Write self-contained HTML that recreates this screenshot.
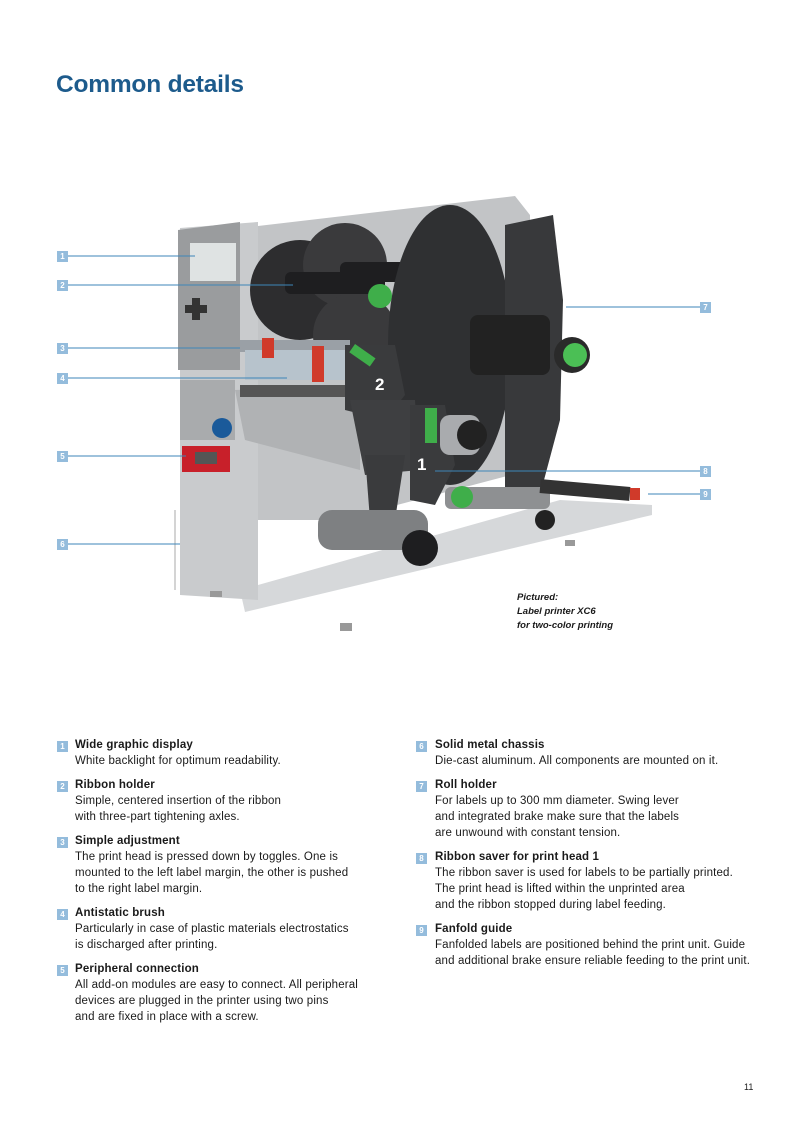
<!DOCTYPE html>
<html><head><meta charset="utf-8"><style>
body{margin:0;background:#fff;}
#p{position:relative;width:794px;height:1123px;overflow:hidden;font-family:"Liberation Sans",Arial,sans-serif;color:#1a1a1a;}
h1{position:absolute;left:56px;top:71px;margin:0;font-size:24.5px;font-weight:bold;color:#1d5b8c;letter-spacing:-0.2px;}
.it{position:absolute;font-size:11.5px;line-height:16px;letter-spacing:0.15px;white-space:nowrap;}
.it b{display:block;font-weight:bold;}
.n{position:absolute;width:11px;height:11px;background:#94bcdc;color:#fff;font-size:8px;line-height:11px;text-align:center;font-weight:bold;}
.cap{position:absolute;left:517px;top:591px;font-size:9.5px;line-height:14px;font-weight:bold;font-style:italic;}
.pg{position:absolute;left:744px;top:1082px;font-size:9px;}
</style></head><body><div id="p">
<h1>Common details</h1>
<svg width="794" height="700" style="position:absolute;left:0;top:0">
<polygon points="240,590 560,500 652,505 652,515 245,612" fill="#d6d8da"/>
<polygon points="258,226 515,196 530,215 530,470 340,520 258,520" fill="#c2c4c6"/>
<polygon points="180,228 258,222 258,600 180,595" fill="#c9cbcd"/>
<polygon points="178,230 240,222 240,370 178,370" fill="#9a9c9e"/>
<rect x="190" y="243" width="46" height="38" fill="#dfe3e3"/>
<rect x="180" y="380" width="55" height="60" fill="#a9abad"/>
<circle cx="222" cy="428" r="10" fill="#1a5a9a"/>
<rect x="182" y="446" width="48" height="26" fill="#c8202a"/>
<rect x="195" y="452" width="22" height="12" fill="#555"/>
<path d="M175 510 v80" stroke="#aaa"/>
<rect x="185" y="305" width="22" height="8" fill="#333"/>
<rect x="192" y="298" width="8" height="22" fill="#333"/>
<circle cx="300" cy="290" r="50" fill="#2d2d2f"/>
<circle cx="345" cy="265" r="42" fill="#3a3a3c"/>
<circle cx="355" cy="335" r="42" fill="#3a3a3c"/>
<rect x="285" y="272" width="100" height="22" rx="6" fill="#1e1e20"/>
<rect x="340" y="262" width="90" height="20" rx="6" fill="#1e1e20"/>
<rect x="380" y="350" width="70" height="20" rx="6" fill="#1e1e20"/>
<circle cx="380" cy="296" r="12" fill="#3fae4a"/><circle cx="432" cy="285" r="12" fill="#3fae4a"/><circle cx="455" cy="360" r="12" fill="#3fae4a"/>
<ellipse cx="450" cy="345" rx="62" ry="140" fill="#2f3032"/>
<polygon points="505,225 553,215 563,300 560,420 540,495 505,490" fill="#38393b"/>
<rect x="470" y="315" width="80" height="60" rx="8" fill="#222"/>
<circle cx="572" cy="355" r="18" fill="#2a2a2a"/>
<circle cx="575" cy="355" r="12" fill="#4bbf55"/>
<rect x="240" y="340" width="110" height="12" fill="#9aa0a6"/>
<rect x="245" y="350" width="100" height="30" fill="#b7c3cc"/>
<polygon points="235,390 360,385 360,470 245,440" fill="#b0b2b4"/>
<rect x="240" y="385" width="110" height="12" fill="#555"/>
<rect x="262" y="338" width="12" height="20" fill="#d03a2a"/><rect x="312" y="346" width="12" height="36" fill="#d03a2a"/>
<polygon points="345,345 395,345 405,395 385,420 345,410" fill="#3a3b3d"/>
<polygon points="350,400 415,400 420,470 365,475" fill="#3e3f41"/>
<polygon points="410,405 445,405 455,465 435,505 410,500" fill="#3a3b3d"/>
<polygon points="365,455 405,455 395,520 370,520" fill="#3a3b3d"/>
<rect x="440" y="415" width="40" height="40" rx="10" fill="#a9abae"/>
<circle cx="472" cy="435" r="15" fill="#222"/>
<rect x="425" y="408" width="12" height="35" fill="#3fae4a"/>
<rect x="350" y="350" width="25" height="10" fill="#3fae4a" transform="rotate(35 362 355)"/>
<rect x="445" y="487" width="105" height="22" rx="6" fill="#8e9092"/>
<circle cx="462" cy="497" r="11" fill="#3fae4a"/>
<circle cx="545" cy="520" r="10" fill="#222"/>
<rect x="540" y="483" width="90" height="14" fill="#333" transform="rotate(5 585 490)"/>
<rect x="630" y="488" width="10" height="12" fill="#d03a2a"/>
<rect x="318" y="510" width="110" height="40" rx="14" fill="#7e8082"/>
<circle cx="420" cy="548" r="18" fill="#1e1e20"/>
<rect x="210" y="591" width="12" height="6" fill="#999"/><rect x="340" y="623" width="12" height="8" fill="#999"/><rect x="565" y="540" width="10" height="6" fill="#999"/>
<text x="375" y="390" font-family="Liberation Sans" font-weight="bold" font-size="17" fill="#fff">2</text>
<text x="417" y="470" font-family="Liberation Sans" font-weight="bold" font-size="17" fill="#fff">1</text>
<g stroke="#3d86b8" stroke-width="1">
<line x1="68" y1="256" x2="195" y2="256"/>
<line x1="68" y1="285" x2="293" y2="285"/>
<line x1="68" y1="348" x2="240" y2="348"/>
<line x1="68" y1="378" x2="287" y2="378"/>
<line x1="68" y1="456" x2="186" y2="456"/>
<line x1="68" y1="544" x2="180" y2="544"/>
<line x1="566" y1="307" x2="700" y2="307"/>
<line x1="435" y1="471" x2="700" y2="471"/>
<line x1="648" y1="494" x2="700" y2="494"/>
</g>
</svg>
<div class="n" style="left:57px;top:251px">1</div>
<div class="n" style="left:57px;top:280px">2</div>
<div class="n" style="left:57px;top:343px">3</div>
<div class="n" style="left:57px;top:373px">4</div>
<div class="n" style="left:57px;top:451px">5</div>
<div class="n" style="left:57px;top:539px">6</div>
<div class="n" style="left:700px;top:302px">7</div>
<div class="n" style="left:700px;top:466px">8</div>
<div class="n" style="left:700px;top:489px">9</div>
<div class="cap">Pictured:<br>Label printer XC6<br>for two-color printing</div>

<div class="n" style="left:57px;top:741px">1</div>
<div class="it" style="left:75px;top:737px"><b>Wide graphic display</b>White backlight for optimum readability.</div>
<div class="n" style="left:57px;top:781px">2</div>
<div class="it" style="left:75px;top:777px"><b>Ribbon holder</b>Simple, centered insertion of the ribbon<br>with three-part tightening axles.</div>
<div class="n" style="left:57px;top:837px">3</div>
<div class="it" style="left:75px;top:833px"><b>Simple adjustment</b>The print head is pressed down by toggles. One is<br>mounted to the left label margin, the other is pushed<br>to the right label margin.</div>
<div class="n" style="left:57px;top:909px">4</div>
<div class="it" style="left:75px;top:905px"><b>Antistatic brush</b>Particularly in case of plastic materials electrostatics<br>is discharged after printing.</div>
<div class="n" style="left:57px;top:965px">5</div>
<div class="it" style="left:75px;top:961px"><b>Peripheral connection</b>All add-on modules are easy to connect. All peripheral<br>devices are plugged in the printer using two pins<br>and are fixed in place with a screw.</div>

<div class="n" style="left:416px;top:741px">6</div>
<div class="it" style="left:435px;top:737px"><b>Solid metal chassis</b>Die-cast aluminum. All components are mounted on it.</div>
<div class="n" style="left:416px;top:781px">7</div>
<div class="it" style="left:435px;top:777px"><b>Roll holder</b>For labels up to 300 mm diameter. Swing lever<br>and integrated brake make sure that the labels<br>are unwound with constant tension.</div>
<div class="n" style="left:416px;top:853px">8</div>
<div class="it" style="left:435px;top:849px"><b>Ribbon saver for print head 1</b>The ribbon saver is used for labels to be partially printed.<br>The print head is lifted within the unprinted area<br>and the ribbon stopped during label feeding.</div>
<div class="n" style="left:416px;top:925px">9</div>
<div class="it" style="left:435px;top:921px"><b>Fanfold guide</b>Fanfolded labels are positioned behind the print unit. Guide<br>and additional brake ensure reliable feeding to the print unit.</div>
<div class="pg">11</div>
</div></body></html>
